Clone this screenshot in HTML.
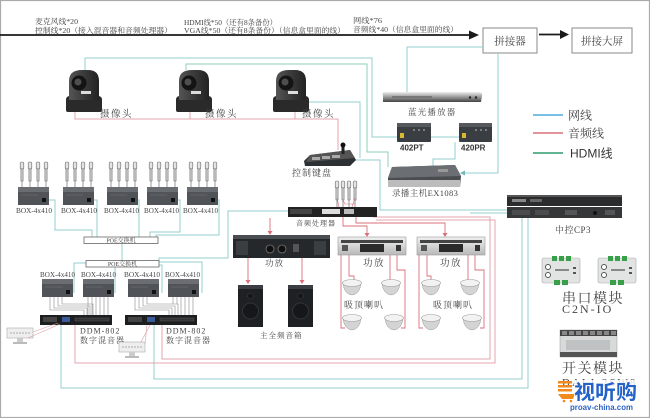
<!DOCTYPE html>
<html><head><meta charset="utf-8"><style>
html,body{margin:0;padding:0;background:#fff;}
svg{display:block;}
.s{font-family:"Liberation Serif","Noto Serif CJK SC",serif;fill:#444;}
.h{font-family:"Liberation Sans","Noto Sans CJK SC",sans-serif;}
</style></head><body>
<svg width="650" height="418" viewBox="0 0 650 418" xmlns="http://www.w3.org/2000/svg">
<defs>
<linearGradient id="camg" x1="0" y1="0" x2="1" y2="0"><stop offset="0" stop-color="#555"/><stop offset="0.5" stop-color="#3a3a3a"/><stop offset="1" stop-color="#222"/></linearGradient>
<linearGradient id="silver" x1="0" y1="0" x2="0" y2="1"><stop offset="0" stop-color="#f0f0f0"/><stop offset="1" stop-color="#b8b8b8"/></linearGradient>
<linearGradient id="blu" x1="0" y1="0" x2="0" y2="1"><stop offset="0" stop-color="#eee"/><stop offset="0.5" stop-color="#999"/><stop offset="1" stop-color="#444"/></linearGradient>
<g id="cam">
 <path d="M1,30 Q1,26 5,26 L33,26 Q37,26 37,30 L37,40 Q37,42 35,42 L3,42 Q1,42 1,40Z" fill="#2a2a2a"/>
 <path d="M4,30 L4,11 Q4,0 17,0 L23,0 Q34,0 34,11 L34,30 Z" fill="url(#camg)"/>
 <circle cx="14" cy="13" r="7.5" fill="#141414"/>
 <circle cx="13" cy="12" r="3.5" fill="#4e4e4e"/>
 <rect x="16" y="21" width="10" height="3" fill="#ddd"/>
</g>
<g id="mic">
 <rect x="-1.8" y="0" width="3.6" height="7" rx="1.5" fill="#e4e4e4" stroke="#666" stroke-width="0.6"/>
 <rect x="-1.1" y="7" width="2.2" height="12" fill="#c8c8c8" stroke="#666" stroke-width="0.5"/>
 <line x1="0" y1="19" x2="0" y2="26" stroke="#555" stroke-width="0.6"/>
</g>
<g id="box">
 <rect x="0" y="0" width="31" height="18" fill="#505458"/>
 <rect x="0" y="0" width="31" height="5" fill="#6a6e72"/>
 <rect x="24" y="11" width="4" height="4" fill="#111"/>
 <line x1="3" y1="8" x2="20" y2="8" stroke="#777" stroke-width="0.6"/>
</g>
<g id="mbox">
 <use href="#mic" x="4" y="-25"/><use href="#mic" x="12" y="-25"/><use href="#mic" x="20" y="-25"/><use href="#mic" x="28" y="-25"/>
 <use href="#box"/>
</g>
<g id="ceil">
 <path d="M-9,3 Q-8,14 0,15 Q8,14 9,3 Z" fill="#d4d4d4" stroke="#999" stroke-width="0.5"/>
 <ellipse cx="0" cy="3" rx="9.5" ry="3.5" fill="#f2f2f2" stroke="#999" stroke-width="0.6"/>
</g>
<g id="spk">
 <rect x="0" y="0" width="25" height="42" fill="#1e2124"/>
 <rect x="0" y="0" width="25" height="4" fill="#3a3e42"/>
 <circle cx="12.5" cy="26" r="8" fill="#15171a" stroke="#333" stroke-width="1"/>
 <circle cx="12.5" cy="11" r="3" fill="#15171a" stroke="#333" stroke-width="0.8"/>
</g>
<g id="samp">
 <rect x="0" y="0" width="68" height="18" fill="url(#silver)" stroke="#999" stroke-width="0.6"/>
 <rect x="3" y="3" width="62" height="3" fill="#444"/>
 <rect x="22" y="7" width="24" height="8" fill="#2a2a2a"/>
 <rect x="58" y="8" width="5" height="6" fill="#333"/>
 <rect x="4" y="8" width="6" height="6" fill="#555"/>
</g>
<g id="pc">
 <rect x="0" y="0" width="26" height="10" fill="#eee" stroke="#aaa" stroke-width="0.6"/>
 <line x1="3" y1="5" x2="23" y2="5" stroke="#ccc" stroke-width="2" stroke-dasharray="2 1"/>
 <rect x="10" y="10" width="6" height="4" fill="#ccc"/>
 <rect x="6" y="14" width="14" height="2" fill="#bbb"/>
</g>
<g id="ser">
 <rect x="0" y="0" width="38" height="25" rx="2" fill="#e2e4e4" stroke="#aaa" stroke-width="0.6"/>
 <rect x="10" y="-2" width="5" height="5" fill="#39a04a"/><rect x="17" y="-2" width="5" height="5" fill="#39a04a"/><rect x="24" y="-2" width="5" height="5" fill="#39a04a"/>
 <rect x="12" y="22" width="6" height="5" fill="#39a04a"/><rect x="20" y="22" width="6" height="5" fill="#39a04a"/>
 <circle cx="6" cy="9" r="2.5" fill="#fff" stroke="#555"/><circle cx="6" cy="17" r="2.5" fill="#fff" stroke="#555"/>
 <rect x="13" y="11" width="14" height="2" fill="#888"/>
 <rect x="31" y="9" width="3" height="2" fill="#555"/><rect x="31" y="14" width="3" height="2" fill="#555"/>
</g>
</defs>

<rect x="0.5" y="0.5" width="649" height="417" fill="#fff" stroke="#aaa" stroke-width="1.2"/>

<!-- top texts -->
<g class="s" font-size="7.5">
<text x="35" y="24" textLength="43" lengthAdjust="spacingAndGlyphs">麦克风线*20</text>
<text x="35" y="33" textLength="137" lengthAdjust="spacingAndGlyphs">控制线*20（接入混音器和音频处理器）</text>
<text x="184" y="25" textLength="93" lengthAdjust="spacingAndGlyphs">HDMI线*50（还有8条备份）</text>
<text x="184" y="33" textLength="161" lengthAdjust="spacingAndGlyphs">VGA线*50（还有8条备份）（信息盒里面的线）</text>
<text x="353" y="23" textLength="29" lengthAdjust="spacingAndGlyphs">网线*76</text>
<text x="353" y="32" textLength="105" lengthAdjust="spacingAndGlyphs">音频线*40（信息盒里面的线）</text>
</g>
<line x1="0" y1="35" x2="472" y2="35" stroke="#1a1a1a" stroke-width="1.8"/>
<polygon points="469,30.5 479,35 469,39.5" fill="#1a1a1a"/>
<line x1="539" y1="34.5" x2="562" y2="34.5" stroke="#1a1a1a" stroke-width="1.8"/>
<polygon points="560,30 569,34.5 560,39" fill="#1a1a1a"/>
<rect x="483" y="28" width="54" height="25" fill="#fff" stroke="#888" stroke-width="1"/>
<text x="510" y="44.5" class="s" font-size="10.5" text-anchor="middle" fill="#444">拼接器</text>
<rect x="572" y="28" width="60" height="25" fill="#fff" stroke="#888" stroke-width="1"/>
<text x="602" y="44.5" class="s" font-size="10.5" text-anchor="middle" fill="#444">拼接大屏</text>

<!-- teal lines -->
<g fill="none" stroke="#93cfcc" stroke-width="1">
<polyline points="85,70 85,58 372,58 372,137 397,137"/>
<polyline points="186,70 186,64 367,64 367,152 388,152 388,167" stroke="#8fcfb4"/>
<polyline points="307,102 360,102 360,158"/>
<polyline points="355,160 380,160 380,210 507,210"/>
<polyline points="470,213 507,213"/>
<polyline points="483,47 407,47 407,93"/>
<polyline points="498,53 498,173 463,173"/>
<polyline points="431,137 459,137"/>
<polyline points="455,142 455,159 433,159 433,166"/>
<polyline points="290,211 228,211 228,258 159,258 159,261"/>
<polyline points="122,243 122,261"/>
<polyline points="49,200 55,200 55,230 92,230 92,237"/>
<polyline points="94,200 97,200 97,237"/>
<polyline points="137,200 139,200 139,237"/>
<polyline points="177,200 180,200 180,232 150,232 150,237"/>
<polyline points="217,200 219,200 219,235 156,235 156,237"/>
<polyline points="86,263 74,263 74,293"/>
<polyline points="115,267 115,293"/>
<polyline points="159,265 162,265 162,293"/>
<polyline points="159,262 202,262 202,293"/>
<polyline points="61,325 61,388 528,388 528,218"/>
<polyline points="154,325 154,379 522,379 522,218"/>
</g>
<polygon points="460,173 465,170.5 465,175.5" fill="#6fb8b8"/>

<!-- pink lines -->
<g fill="none" stroke="#e3a4ac" stroke-width="1">
<polyline points="75,112 75,119 338,119 338,150"/>
<polyline points="190,112 190,119"/>
<polyline points="295,112 295,119"/>
<polyline points="373,217 490,217 490,359 162,359 162,325"/>
<polyline points="376,220 495,220 495,363 75,363 75,325"/>
</g>
<!-- red audio lines -->
<g fill="none" stroke="#d9707a" stroke-width="0.9">
<polyline points="270,218 270,231"/>
<polyline points="343,217 343,226 367,226 367,234"/>
<polyline points="356,217 356,223 445,223 445,234"/>
<polyline points="248,258 248,281"/>
<polyline points="302,258 302,281"/>
<polyline points="341,255 341,328 345,328"/>
<polyline points="349,255 349,276 354,276 354,281"/>
<polyline points="390,255 390,281"/>
<polyline points="397,255 397,270 405,270 405,328 401,328"/>
<polyline points="419,255 419,328 423,328"/>
<polyline points="427,255 427,276 431,276 431,281"/>
<polyline points="468,255 468,281"/>
<polyline points="475,255 475,270 484,270 484,328 480,328"/>
</g>
<g fill="#d9707a">
<polygon points="267.5,231 272.5,231 270,235"/>
<polygon points="364.5,233 369.5,233 367,237"/>
<polygon points="442.5,233 447.5,233 445,237"/>
<polygon points="245.5,280 250.5,280 248,284"/>
<polygon points="299.5,280 304.5,280 302,284"/>
</g>

<!-- legend -->
<line x1="533" y1="115" x2="563" y2="115" stroke="#4fabdc" stroke-width="1.6"/>
<line x1="533" y1="133" x2="563" y2="133" stroke="#d8707a" stroke-width="1.6"/>
<line x1="533" y1="153" x2="563" y2="153" stroke="#2f9a6c" stroke-width="1.6"/>
<text x="568" y="119.5" class="s" font-size="12" fill="#333">网线</text>
<text x="568" y="137.5" class="s" font-size="12" fill="#333">音频线</text>
<text x="570" y="157.5" class="h" font-size="12" fill="#333">HDMI线</text>

<!-- cameras -->
<use href="#cam" x="65" y="70"/>
<use href="#cam" x="175" y="70"/>
<use href="#cam" x="272" y="70"/>
<g class="s" font-size="9.5" letter-spacing="1.5">
<text x="100" y="117">摄像头</text>
<text x="205" y="117">摄像头</text>
<text x="302" y="117">摄像头</text>
</g>

<!-- blu-ray -->
<path d="M383,95 Q381,92 386,92 L478,92 Q483,92 482,96 L481,102 L383,102 Z" fill="url(#blu)"/>
<rect x="392" y="96" width="40" height="2" fill="#777"/>
<circle cx="470" cy="97.5" r="1.2" fill="#222"/><circle cx="476" cy="97.5" r="1.2" fill="#222"/>
<text x="408" y="115" class="s" font-size="8.5" letter-spacing="1.2">蓝光播放器</text>
<!-- 402PT / 420PR -->
<g>
<rect x="397" y="123" width="34" height="19" rx="1" fill="#3a3e42"/>
<rect x="397" y="123" width="34" height="4" fill="#55595d"/>
<rect x="400" y="133" width="4" height="5" fill="#d8b830"/>
<circle cx="414" cy="130" r="0.8" fill="#ccc"/><circle cx="419" cy="130" r="0.8" fill="#ccc"/><circle cx="424" cy="130" r="0.8" fill="#ccc"/>
<rect x="459" y="123" width="33" height="19" rx="1" fill="#3a3e42"/>
<rect x="459" y="123" width="33" height="4" fill="#55595d"/>
<rect x="462" y="133" width="4" height="5" fill="#d8b830"/>
<circle cx="476" cy="130" r="0.8" fill="#ccc"/><circle cx="481" cy="130" r="0.8" fill="#ccc"/><circle cx="486" cy="130" r="0.8" fill="#ccc"/>
</g>
<text x="400" y="150.5" class="h" font-size="8" font-weight="bold" fill="#333">402PT</text>
<text x="461" y="150.5" class="h" font-size="8" font-weight="bold" fill="#333">420PR</text>
<!-- EX1083 -->
<polygon points="392,167 455,165 461,176 460,187 388,187 388,178" fill="#4a4d50"/>
<polygon points="392,167 455,165 461,176 388,178" fill="#6b6e72"/>
<rect x="388" y="180" width="72" height="7" fill="#bcbcbc"/>
<rect x="438" y="169" width="10" height="3" fill="#999"/>
<text x="392" y="196" class="s" font-size="8.5" letter-spacing="0.4">录播主机EX1083</text>
<!-- keyboard -->
<polygon points="310,155 350,150 356,160 350,166 305,166 304,161" fill="#2e3134"/>
<polygon points="310,155 350,150 355,158 306,162" fill="#555"/>
<rect x="312" y="157" width="8" height="3" fill="#aaa"/><rect x="322" y="156" width="8" height="3" fill="#aaa"/><rect x="332" y="155" width="8" height="3" fill="#aaa"/>
<rect x="341.5" y="145" width="3" height="9" fill="#222"/><circle cx="343" cy="145" r="2.5" fill="#111"/>
<text x="292" y="176" class="s" font-size="9" letter-spacing="1">控制键盘</text>

<!-- audio processor -->
<use href="#mic" x="337" y="181"/><use href="#mic" x="343" y="181"/><use href="#mic" x="349" y="181"/><use href="#mic" x="355" y="181"/>
<g fill="none" stroke="#d9707a" stroke-width="0.6"><polyline points="337,198 339,207"/><polyline points="355,198 352,207"/><polyline points="343,200 345,204 355,204"/></g>
<rect x="288" y="207" width="89" height="10" fill="#222"/>
<rect x="290" y="209" width="22" height="5" fill="#444"/>
<rect x="322" y="209" width="18" height="5" fill="#ddd"/>
<rect x="344" y="209" width="10" height="5" fill="#bbb"/>
<text x="296" y="225.5" class="s" font-size="7" letter-spacing="1">音频处理器</text>

<!-- amps -->
<rect x="233" y="235" width="97" height="23" fill="#25282b"/>
<rect x="233" y="235" width="97" height="4" fill="#4a4e52"/>
<rect x="236" y="241" width="12" height="14" fill="#3a3e42"/><rect x="314" y="241" width="12" height="14" fill="#3a3e42"/>
<circle cx="270" cy="249" r="4" fill="#111" stroke="#777" stroke-width="0.8"/>
<circle cx="282" cy="249" r="4" fill="#111" stroke="#777" stroke-width="0.8"/>
<rect x="293" y="244" width="6" height="8" fill="#555"/>
<text x="265" y="266" class="s" font-size="8.5" letter-spacing="1">功放</text>
<use href="#samp" x="338" y="237"/>
<use href="#samp" x="417" y="237"/>
<text x="363" y="266" class="s" font-size="9.5" letter-spacing="1.5">功放</text>
<text x="440" y="266" class="s" font-size="9.5" letter-spacing="1.5">功放</text>

<!-- main speakers -->
<use href="#spk" x="238" y="285"/>
<use href="#spk" x="288" y="285"/>
<text x="260" y="338" class="s" font-size="7.5" letter-spacing="1">主全频音箱</text>

<!-- ceiling speakers -->
<use href="#ceil" x="352" y="280"/><use href="#ceil" x="391" y="280"/>
<use href="#ceil" x="352" y="315"/><use href="#ceil" x="394" y="315"/>
<use href="#ceil" x="431" y="280"/><use href="#ceil" x="470" y="280"/>
<use href="#ceil" x="431" y="315"/><use href="#ceil" x="472" y="315"/>
<text x="344" y="308" class="s" font-size="9" letter-spacing="1">吸顶喇叭</text>
<text x="433" y="308" class="s" font-size="9" letter-spacing="1">吸顶喇叭</text>

<!-- top row boxes -->
<use href="#mbox" x="18" y="187"/>
<use href="#mbox" x="63" y="187"/>
<use href="#mbox" x="107" y="187"/>
<use href="#mbox" x="147" y="187"/>
<use href="#mbox" x="187" y="187"/>
<g class="s" font-size="7">
<text x="16" y="213" textLength="36" lengthAdjust="spacingAndGlyphs">BOX-4x410</text>
<text x="61" y="213" textLength="36" lengthAdjust="spacingAndGlyphs">BOX-4x410</text>
<text x="104" y="213" textLength="35" lengthAdjust="spacingAndGlyphs">BOX-4x410</text>
<text x="144" y="213" textLength="35" lengthAdjust="spacingAndGlyphs">BOX-4x410</text>
<text x="183" y="213" textLength="35" lengthAdjust="spacingAndGlyphs">BOX-4x410</text>
</g>
<!-- POE switches -->
<rect x="84" y="237" width="74" height="6.5" fill="#fff" stroke="#666" stroke-width="0.8"/>
<text x="121" y="242.6" class="s" font-size="6" text-anchor="middle">POE交换机</text>
<rect x="86" y="260.5" width="73" height="6.5" fill="#fff" stroke="#666" stroke-width="0.8"/>
<text x="122.5" y="266" class="s" font-size="6" text-anchor="middle">POE交换机</text>

<!-- bottom row boxes -->
<g class="s" font-size="7">
<text x="40" y="277" textLength="35" lengthAdjust="spacingAndGlyphs">BOX-4x410</text>
<text x="81" y="277" textLength="35" lengthAdjust="spacingAndGlyphs">BOX-4x410</text>
<text x="124" y="277" textLength="36" lengthAdjust="spacingAndGlyphs">BOX-4x410</text>
<text x="165" y="277" textLength="35" lengthAdjust="spacingAndGlyphs">BOX-4x410</text>
</g>
<use href="#box" x="42" y="279"/>
<use href="#box" x="83" y="279"/>
<use href="#box" x="128" y="279"/>
<use href="#box" x="168" y="279"/>
<g stroke="#888" stroke-width="0.6" fill="none">
<polyline points="50,297 50,310 84,310 84,315"/>
<polyline points="54,297 54,308 87,308 87,315"/>
<polyline points="58,297 58,306 90,306 90,315"/>
<polyline points="62,297 62,304 93,304 93,315"/>
<path d="M88,297 V315 M92,297 V315 M96,297 V315 M100,297 V315 M104,297 V315 M108,297 V315"/>
<polyline points="135,297 135,310 169,310 169,315"/>
<polyline points="139,297 139,308 172,308 172,315"/>
<polyline points="143,297 143,306 175,306 175,315"/>
<polyline points="147,297 147,304 178,304 178,315"/>
<path d="M173,297 V304 M177,297 V304 M181,297 V315 M185,297 V315 M189,297 V315 M193,297 V315"/>
</g>
<!-- mixers -->
<rect x="40" y="315" width="72" height="10" fill="#1c1e20"/>
<rect x="43" y="317" width="14" height="5" fill="#444"/><rect x="62" y="317" width="8" height="5" fill="#3a5a9a"/>
<rect x="75" y="318" width="34" height="3" fill="#333" stroke="#666" stroke-width="0.4"/>
<rect x="125" y="315" width="72" height="10" fill="#1c1e20"/>
<rect x="128" y="317" width="14" height="5" fill="#444"/><rect x="147" y="317" width="8" height="5" fill="#3a5a9a"/>
<rect x="160" y="318" width="34" height="3" fill="#333" stroke="#666" stroke-width="0.4"/>
<g class="s" font-size="8" letter-spacing="1">
<text x="80" y="333.5">DDM-802</text>
<text x="80" y="343">数字混音器</text>
<text x="166" y="333.5">DDM-802</text>
<text x="166" y="343">数字混音器</text>
</g>
<!-- small PCs -->
<use href="#pc" x="7" y="328"/>
<use href="#pc" x="119" y="342"/>
<g stroke="#d9a0a6" stroke-width="0.6"><line x1="33" y1="332" x2="58" y2="323"/><line x1="28" y1="338" x2="60" y2="324"/><line x1="145" y1="344" x2="147" y2="325"/><line x1="141" y1="342" x2="150" y2="325"/></g>

<!-- CP3 -->
<rect x="507" y="195" width="115" height="11" fill="#2a2c2e"/>
<rect x="507" y="195" width="115" height="2" fill="#555"/>
<rect x="512" y="199" width="14" height="3" fill="#888"/><rect x="530" y="199" width="12" height="3" fill="#666"/>
<rect x="507" y="207" width="115" height="11" fill="#353739"/>
<rect x="512" y="210" width="18" height="5" fill="#4a4c4e"/><rect x="535" y="210" width="14" height="5" fill="#4a4c4e"/>
<rect x="565" y="210" width="12" height="5" fill="#555"/><circle cx="595" cy="213" r="2" fill="#111"/>
<rect x="605" y="210" width="10" height="5" fill="#555"/>
<text x="555" y="233" class="s" font-size="9" letter-spacing="0.5">中控CP3</text>

<!-- serial modules -->
<use href="#ser" x="542" y="258"/>
<use href="#ser" x="598" y="258"/>
<text x="562" y="303" class="s" font-size="14" letter-spacing="1.5" fill="#333">串口模块</text>
<text x="562" y="313" class="s" font-size="12" letter-spacing="2" fill="#333">C2N-IO</text>
<!-- switch module -->
<rect x="560" y="330" width="57" height="27" fill="#d8dada" stroke="#999" stroke-width="0.5"/>
<rect x="560" y="330" width="57" height="6" fill="#444"/>
<g fill="#888"><rect x="562" y="331" width="5" height="4"/><rect x="569" y="331" width="5" height="4"/><rect x="576" y="331" width="5" height="4"/><rect x="583" y="331" width="5" height="4"/><rect x="590" y="331" width="5" height="4"/><rect x="597" y="331" width="5" height="4"/><rect x="604" y="331" width="5" height="4"/><rect x="611" y="331" width="5" height="4"/></g>
<rect x="566" y="340" width="44" height="10" fill="#bfc2c2"/>
<rect x="560" y="352" width="57" height="5" fill="#555"/>
<text x="562" y="373" class="s" font-size="14" letter-spacing="1.5" fill="#333">开关模块</text>
<text x="562" y="386" class="s" font-size="11" letter-spacing="2" fill="#333">DALI-2SW8</text>

<!-- logo -->
<g>
<rect x="558" y="381" width="14" height="2.5" fill="#f08a1c"/>
<rect x="558" y="385" width="14" height="2.5" fill="#f08a1c"/>
<rect x="558" y="389" width="14" height="2.5" fill="#f08a1c"/>
<path d="M558,394 L575,394 L573,399 L562,399 Z" fill="#f08a1c"/>
<circle cx="564" cy="401" r="1.3" fill="#f08a1c"/><circle cx="571" cy="401" r="1.3" fill="#f08a1c"/>
<rect x="574" y="380" width="64" height="22" fill="#fff" opacity="0.8"/>
<text x="574" y="399" font-family="'Noto Sans CJK SC','WenQuanYi Zen Hei',sans-serif" font-size="20" font-weight="bold" fill="#2462c8" textLength="63" lengthAdjust="spacingAndGlyphs">视听购</text>
<text x="570" y="410" class="h" font-size="8" font-weight="bold" fill="#2d62c4" textLength="63" lengthAdjust="spacingAndGlyphs">proav-china.com</text>
</g>
</svg>
</body></html>
